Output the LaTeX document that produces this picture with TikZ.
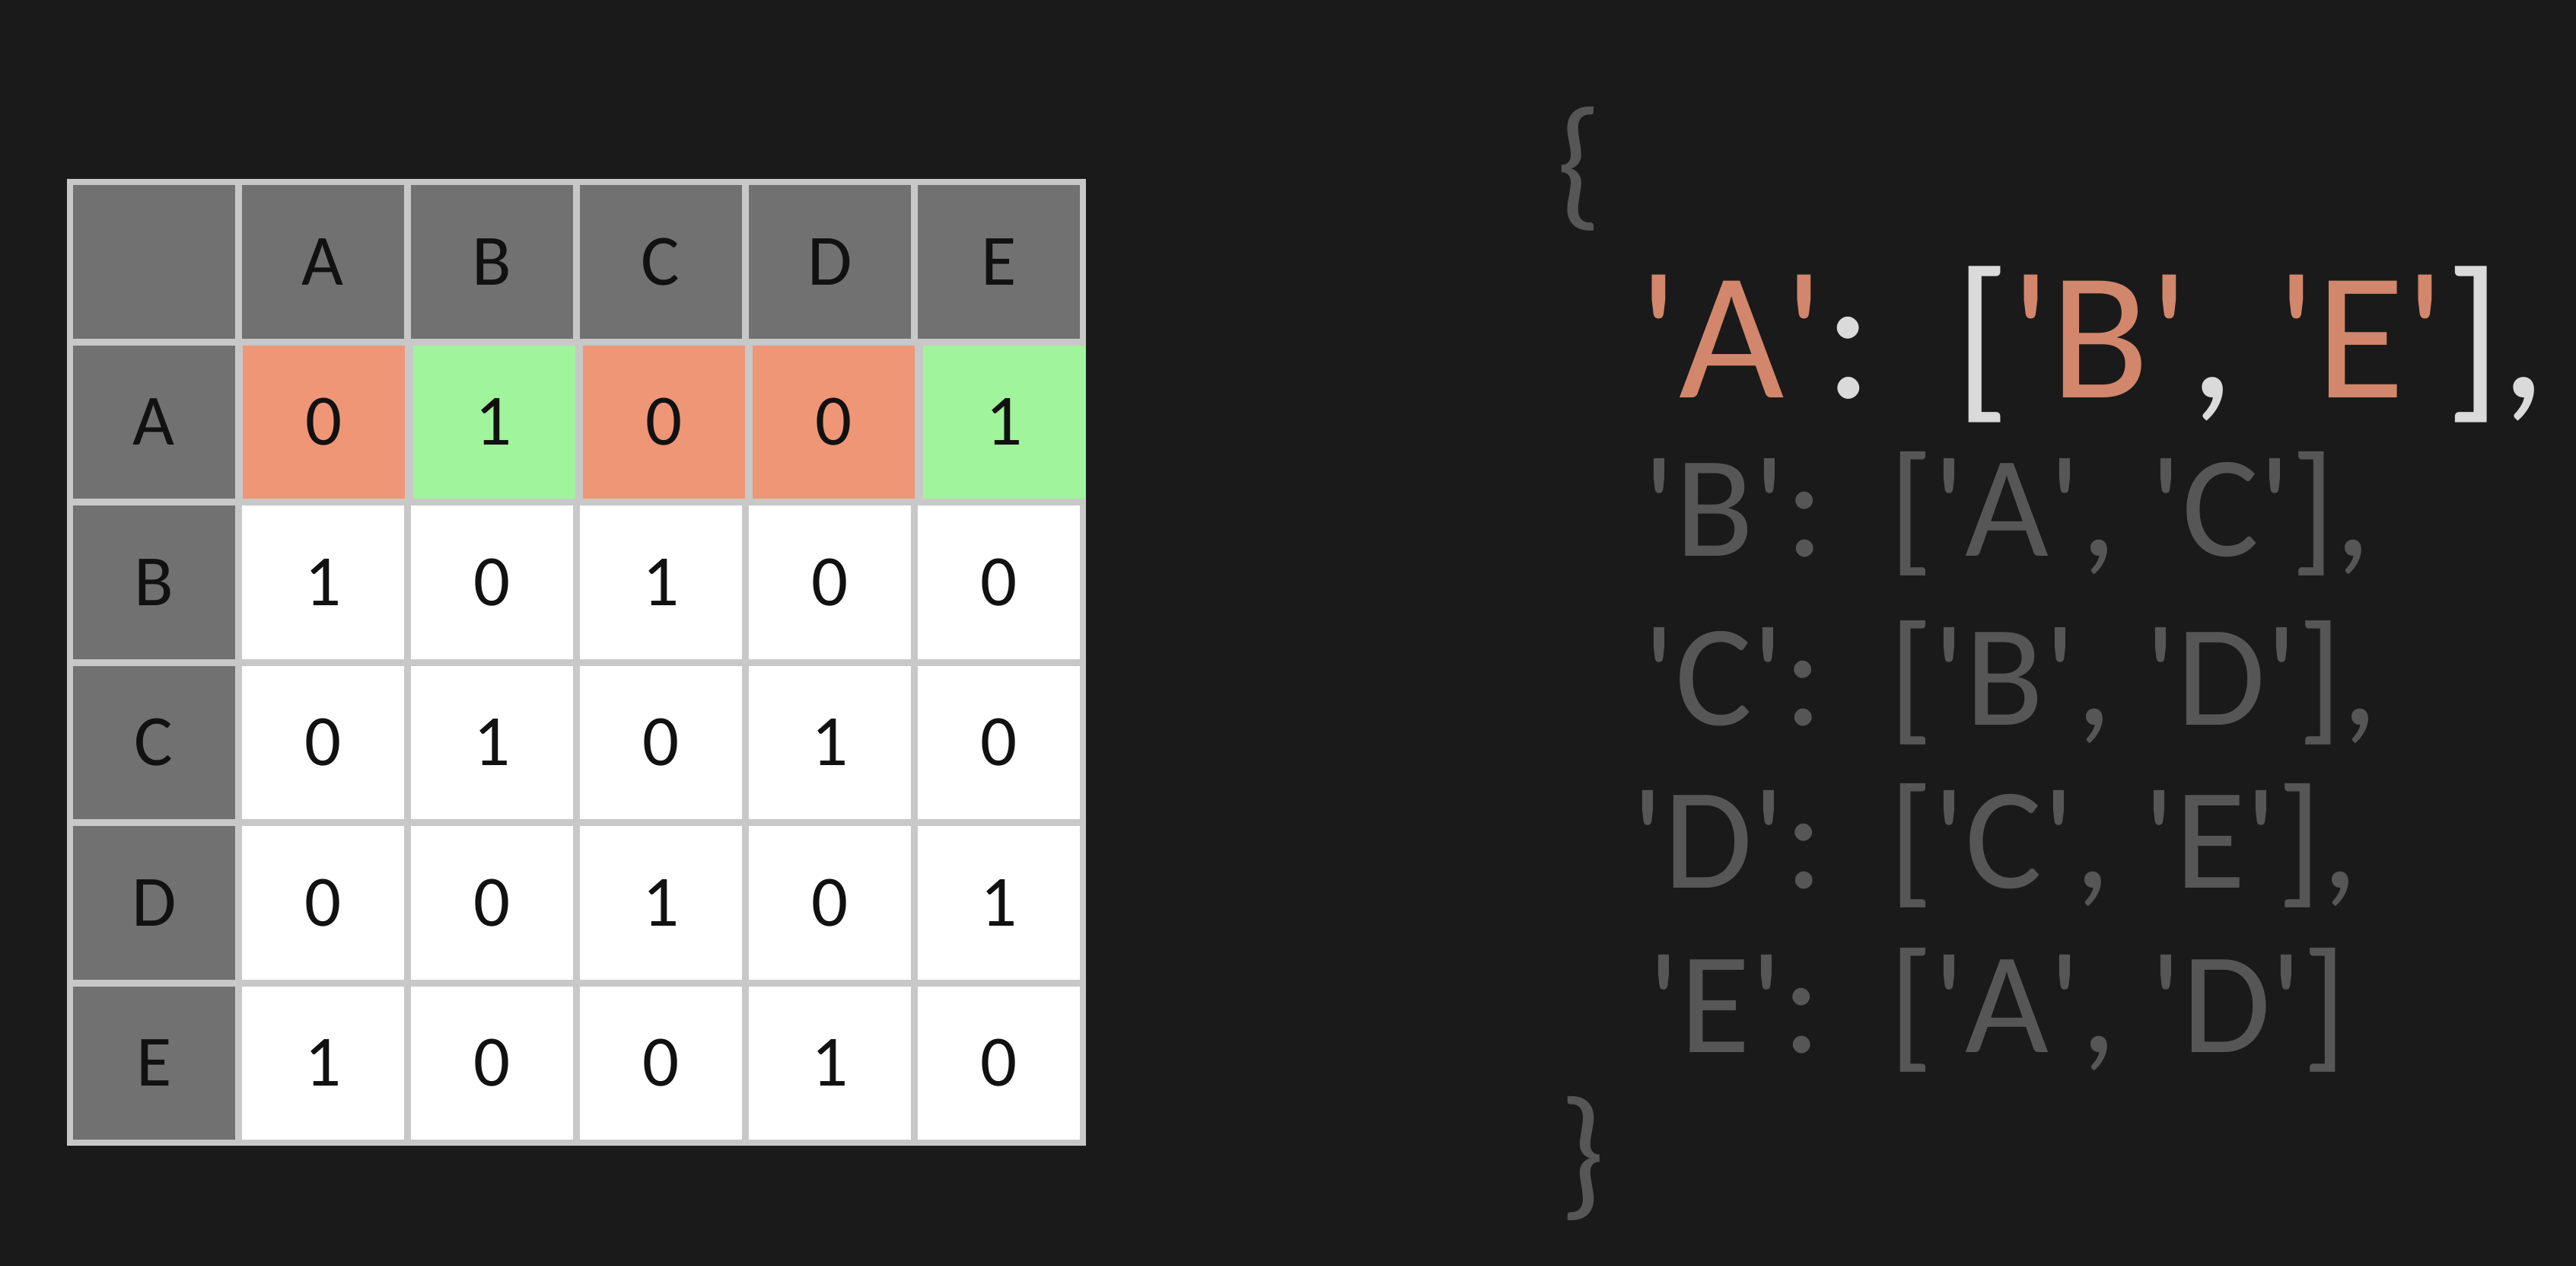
\documentclass[tikz,border=0pt]{standalone}
\usepackage{fontspec}
\setmainfont{Carlito}
\usetikzlibrary{positioning}
\definecolor{bgdark}{RGB}{26,26,26}
\definecolor{gridgray}{RGB}{200,200,200}
\definecolor{hdrgray}{RGB}{113,113,113}
\definecolor{zerofill}{RGB}{238,150,118}
\definecolor{onefill}{RGB}{160,244,155}
\definecolor{inkdark}{RGB}{17,17,17}
\definecolor{codeorange}{RGB}{210,134,108}
\definecolor{codewhite}{RGB}{218,218,218}
\definecolor{codegray}{RGB}{86,86,86}
\newcommand{\q}{\textquotesingle}

\begin{document}
\begin{tikzpicture}[
    cell/.style={minimum width=2.13cm, minimum height=2.015cm, inner sep=0pt, text=inkdark, font=\fontsize{27}{30}\selectfont},
    hdrcell/.style={cell, fill=hdrgray},
    zerocell/.style={cell, fill=zerofill},
    onecell/.style={cell, fill=onefill},
    plaincell/.style={cell, fill=white},
    codeline/.style={anchor=base west, inner sep=0pt, text=codegray, font=\fontsize{54}{60}\selectfont},
    hotline/.style={codeline, text=codeorange, font=\fontsize{68}{75}\selectfont}
]
    \fill[bgdark] (0,0) rectangle (33.85,-16.63);
    \useasboundingbox (0,0) rectangle (33.85,-16.63);

    % table frame
    \fill[gridgray] (0.877,-2.35) rectangle (14.267,-15.05);
    \node[hdrcell] (corner) at (2.022,-3.4375) {};
    \foreach \name [count=\j] in {A,B,C,D,E} {
        \node[hdrcell] (top-\name) at ({2.022+2.22*\j},-3.4375) {\name};
        \node[hdrcell] (side-\name) at (2.022,{-3.4375-2.105*\j}) {\name};
    }

    % row A, neighbours marked
    \node[zerocell, right=0.09cm of side-A] (m-A-1) {0};
    \node[onecell, right=0.09cm of m-A-1] (m-A-2) {1};
    \node[zerocell, right=0.09cm of m-A-2] (m-A-3) {0};
    \node[zerocell, right=0.09cm of m-A-3] (m-A-4) {0};
    \node[onecell, right=0.09cm of m-A-4] (m-A-5) {1};

    % rows B to E
    \foreach \row/\vals in {B/{1,0,1,0,0}, C/{0,1,0,1,0}, D/{0,0,1,0,1}, E/{1,0,0,1,0}} {
        \foreach \v [count=\j] in \vals {
            \node[plaincell] (m-\row-\j) at ({2.022+2.22*\j}, 0 |- side-\row) {\v};
        }
    }

    % adjacency list
    \node[codeline, anchor=north west] (open) at (20.45,-1.40) {\{};
    \node[hotline] (key-A) at (21.53,-5.22) {\q A\q\textcolor{codewhite}{:}};
    \node[hotline] (list-A) at (25.68,-5.22) {\textcolor{codewhite}{[}\q B\q\textcolor{codewhite}{,} \q E\q\textcolor{codewhite}{],}};
    \foreach \row/\y/\x/\list in {B/-7.30/21.59/{\q A\q, \q C\q],},
                                  C/-9.52/21.59/{\q B\q, \q D\q],},
                                  D/-11.66/21.44/{\q C\q, \q E\q],},
                                  E/-13.82/21.65/{\q A\q, \q D\q]}} {
        \node[codeline] (key-\row) at (\x,\y) {\q\row\q:};
        \node[codeline] (list-\row) at (24.82,\y) {[\list};
    }
    \node[codeline, anchor=north west] (close) at (20.49,-14.40) {\}};
\end{tikzpicture}
\end{document}
